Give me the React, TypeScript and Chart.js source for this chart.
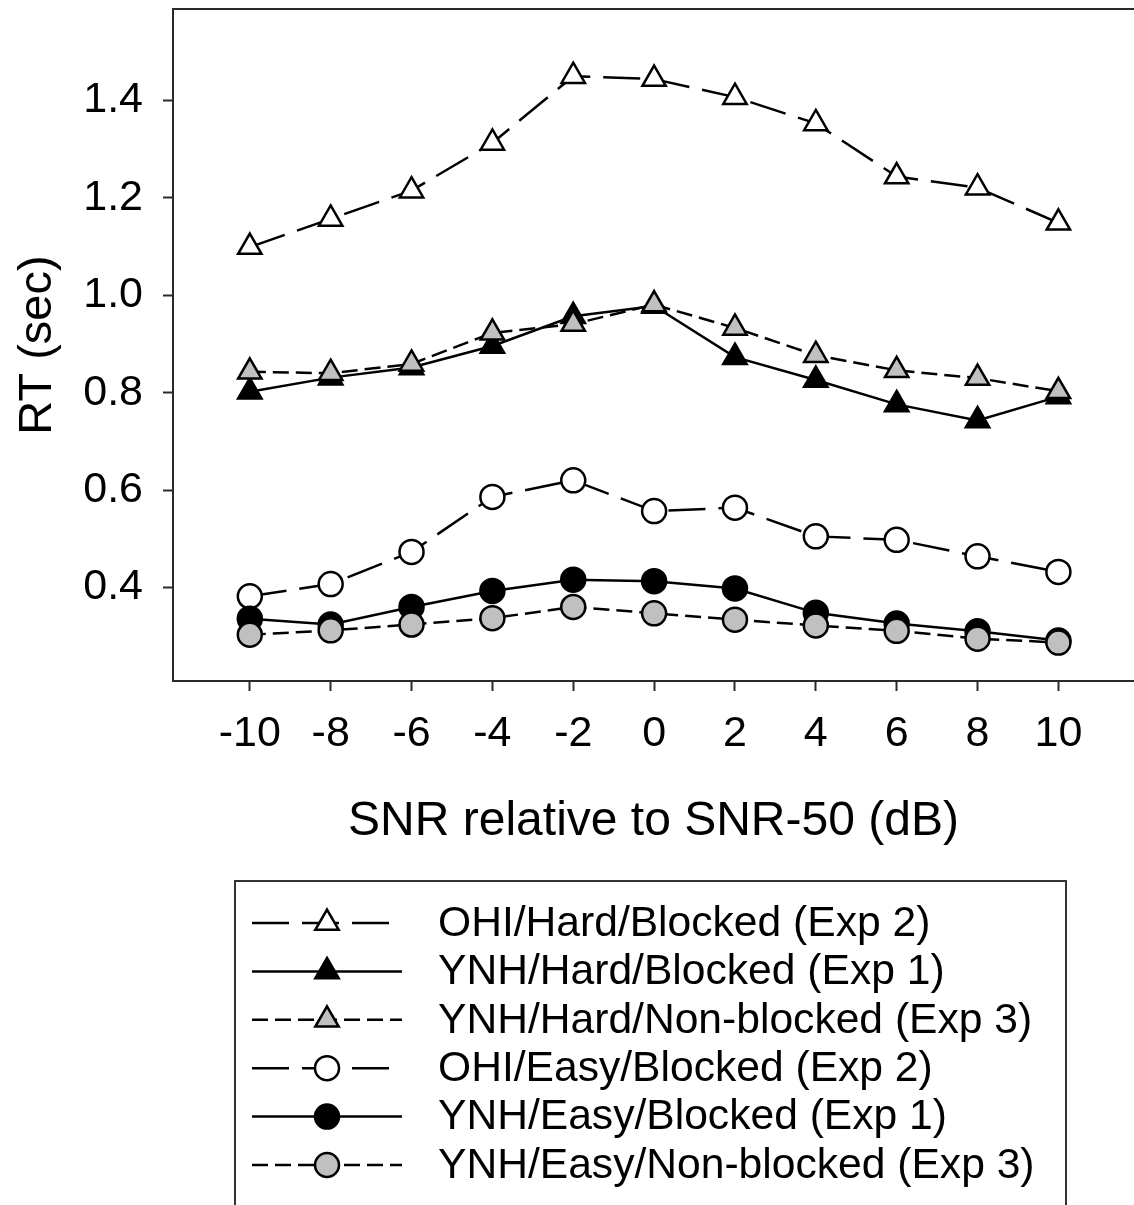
import React, { useEffect, useRef } from 'react';
import { Chart, registerables } from 'chart.js';

Chart.register(...registerables);

// ---- data ----
const snr = [-10, -8, -6, -4, -2, 0, 2, 4, 6, 8, 10];
const xTicks = [-10, -8, -6, -4, -2, 0, 2, 4, 6, 8, 10];
const yTicks = [0.4, 0.6, 0.8, 1.0, 1.2, 1.4];

const ohiHardBlocked = [1.099, 1.157, 1.215, 1.313, 1.45, 1.444, 1.407, 1.353, 1.244, 1.221, 1.149];
const ynhHardBlocked = [0.802, 0.831, 0.852, 0.896, 0.957, 0.978, 0.873, 0.826, 0.776, 0.743, 0.792];
const ynhHardNonBlocked = [0.843, 0.84, 0.859, 0.923, 0.941, 0.981, 0.933, 0.877, 0.846, 0.83, 0.803];
const ohiEasyBlocked = [0.382, 0.407, 0.473, 0.586, 0.62, 0.557, 0.564, 0.505, 0.498, 0.464, 0.432];
const ynhEasyBlocked = [0.336, 0.324, 0.36, 0.393, 0.416, 0.413, 0.398, 0.348, 0.326, 0.31, 0.291];
const ynhEasyNonBlocked = [0.303, 0.312, 0.324, 0.337, 0.36, 0.347, 0.334, 0.322, 0.311, 0.295, 0.287];

const seriesLabels = [
  'OHI/Hard/Blocked (Exp 2)',
  'YNH/Hard/Blocked (Exp 1)',
  'YNH/Hard/Non-blocked (Exp 3)',
  'OHI/Easy/Blocked (Exp 2)',
  'YNH/Easy/Blocked (Exp 1)',
  'YNH/Easy/Non-blocked (Exp 3)',
];

const xTitle = 'SNR relative to SNR-50 (dB)';
const yTitle = 'RT (sec)';

// ---- styles ----
const FONT = "'Liberation Sans', Arial, sans-serif";
const W = 1134;
const H = 1205;
const LONG_DASH = [37, 13];
const SHORT_DASH = [16, 7];
const GRAY = '#c0c0c0';
const INK = '#000000';
const AXIS = '#2a2a2a';

const toPts = (ys: number[]) => snr.map((x, i) => ({ x, y: ys[i] }));

const mk = (label: string, ys: number[], style: string, fill: string, dash: number[], order: number) => ({
  label,
  data: toPts(ys),
  borderColor: INK,
  borderWidth: 2.5,
  borderDash: dash,
  pointStyle: style,
  pointRadius: style === 'triangle' ? 13.5 : 12,
  pointBackgroundColor: fill,
  pointBorderColor: INK,
  pointBorderWidth: 2.5,
  fill: false,
  tension: 0,
  order,
});

const zeroPad = (scale: any) => {
  scale.paddingTop = 0;
  scale.paddingBottom = 0;
  scale.paddingLeft = 0;
  scale.paddingRight = 0;
};

const legendPlugin = {
  id: 'frameAndLegend',
  afterDraw(chart: any) {
    const { ctx, chartArea } = chart;
    ctx.save();
    // top frame line
    ctx.strokeStyle = AXIS;
    ctx.lineWidth = 2;
    ctx.setLineDash([]);
    ctx.beginPath();
    ctx.moveTo(chartArea.left - 1, chartArea.top);
    ctx.lineTo(chartArea.right, chartArea.top);
    ctx.stroke();

    // legend box
    const bx = 235, by = 881, bw = 831, bh = 340;
    ctx.strokeStyle = '#333';
    ctx.lineWidth = 2;
    ctx.strokeRect(bx, by, bw, bh);

    const rowY0 = 923;
    const rowStep = 48.4;
    const lx0 = 252, lx1 = 402, mx = 327, tx = 438;
    chart.data.datasets.forEach((ds: any, i: number) => {
      const y = rowY0 + i * rowStep;
      ctx.strokeStyle = ds.borderColor;
      ctx.lineWidth = ds.borderWidth;
      ctx.setLineDash(ds.borderDash || []);
      ctx.beginPath();
      ctx.moveTo(lx0, y);
      ctx.lineTo(lx1, y);
      ctx.stroke();
      ctx.setLineDash([]);
      // marker
      ctx.fillStyle = ds.pointBackgroundColor;
      ctx.strokeStyle = ds.pointBorderColor;
      ctx.lineWidth = ds.pointBorderWidth;
      ctx.beginPath();
      if (ds.pointStyle === 'triangle') {
        const r = ds.pointRadius;
        ctx.moveTo(mx, y - r);
        ctx.lineTo(mx + r * Math.sin((2 * Math.PI) / 3), y + r * 0.5);
        ctx.lineTo(mx - r * Math.sin((2 * Math.PI) / 3), y + r * 0.5);
        ctx.closePath();
      } else {
        ctx.arc(mx, y, ds.pointRadius, 0, Math.PI * 2);
      }
      ctx.fill();
      ctx.stroke();
      // text
      ctx.fillStyle = '#000';
      ctx.font = `42.6px ${FONT}`;
      ctx.textAlign = 'left';
      ctx.textBaseline = 'middle';
      ctx.fillText(ds.label, tx, y + 1);
    });
    ctx.restore();
  },
};

export default function App() {
  const ref = useRef<HTMLCanvasElement | null>(null);

  useEffect(() => {
    if (!ref.current) return;
    const chart = new Chart(ref.current, {
      type: 'line',
      data: {
        datasets: [
          mk(seriesLabels[0], ohiHardBlocked, 'triangle', '#ffffff', LONG_DASH, 2),
          mk(seriesLabels[1], ynhHardBlocked, 'triangle', INK, [], 1),
          mk(seriesLabels[2], ynhHardNonBlocked, 'triangle', GRAY, SHORT_DASH, 0),
          mk(seriesLabels[3], ohiEasyBlocked, 'circle', '#ffffff', LONG_DASH, 2),
          mk(seriesLabels[4], ynhEasyBlocked, 'circle', INK, [], 1),
          mk(seriesLabels[5], ynhEasyNonBlocked, 'circle', GRAY, SHORT_DASH, 0),
        ] as any,
      },
      options: {
        responsive: false,
        animation: false,
        devicePixelRatio: 1,
        layout: { autoPadding: false, padding: { left: 0, top: 9, right: 0, bottom: 0 } },
        plugins: {
          legend: { display: false },
          tooltip: { enabled: false },
        },
        scales: {
          x: {
            type: 'linear',
            min: -11.9,
            max: 11.87,
            afterBuildTicks: (scale: any) => {
              scale.ticks = xTicks.map((v) => ({ value: v }));
            },
            afterFit: (scale: any) => {
              scale.height = H - 681;
              zeroPad(scale);
            },
            ticks: {
              color: '#000',
              font: { family: FONT, size: 43 },
              padding: 17,
              maxRotation: 0,
              autoSkip: false,
              callback: (v: any) => String(v),
            },
            grid: {
              display: true,
              drawOnChartArea: false,
              drawTicks: true,
              tickLength: 10,
              tickWidth: 2,
              tickColor: AXIS,
            },
            border: { display: true, width: 2, color: AXIS },
            title: {
              display: true,
              text: xTitle,
              color: '#000',
              font: { family: FONT, size: 48 },
              padding: { top: 0, bottom: 354 },
            },
          },
          y: {
            type: 'linear',
            min: 0.208,
            max: 1.588,
            afterBuildTicks: (scale: any) => {
              scale.ticks = yTicks.map((v) => ({ value: v }));
            },
            afterFit: (scale: any) => {
              scale.width = 173;
              zeroPad(scale);
            },
            ticks: {
              color: '#000',
              font: { family: FONT, size: 43 },
              padding: 20,
              autoSkip: false,
              callback: (v: any) => Number(v).toFixed(1),
            },
            grid: {
              display: true,
              drawOnChartArea: false,
              drawTicks: true,
              tickLength: 10,
              tickWidth: 2,
              tickColor: AXIS,
            },
            border: { display: true, width: 2, color: AXIS },
            title: {
              display: true,
              text: yTitle,
              color: '#000',
              font: { family: FONT, size: 47 },
              padding: { top: 10, bottom: 0 },
            },
          },
        },
      } as any,
      plugins: [legendPlugin],
    });
    return () => chart.destroy();
  }, []);

  return (
    <div style={{ position: 'absolute', left: 0, top: 0, width: W, height: H, background: '#fff' }}>
      <canvas ref={ref} width={W} height={H} style={{ display: 'block', width: W, height: H }} />
    </div>
  );
}
